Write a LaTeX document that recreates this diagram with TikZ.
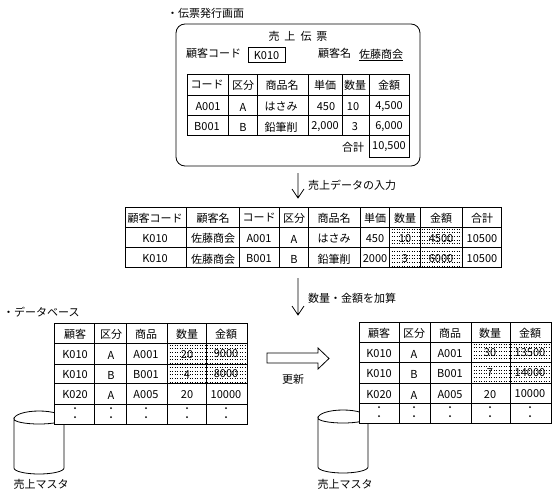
\documentclass[tikz,border=0pt]{standalone}
\usepackage{fontspec}
\setmainfont{Noto Sans CJK JP}
\tikzset{
  cell/.style={inner sep=0pt,font=\fontsize{11}{13}\selectfont},
  line/.style={draw=black,line width=0.8pt},
  grid/.style={draw=black,line width=0.8pt,fill=white},
  dotrow/.style={line width=0.8pt,dash pattern=on 1pt off 1.5pt},
}
\newcommand{\dotcell}[4]{%
  \begin{scope}
    \clip (#1,#2) rectangle (#3,#4);
    \foreach \n in {0,...,10} \draw[dotrow] (#1,{#2+2+3.7*\n}) -- (#3,{#2+2+3.7*\n});
  \end{scope}}
\newcommand{\drum}[2]{%
  \draw[line,fill=white] (#1,#2) arc[start angle=180,end angle=0,x radius=25,y radius=5]
    -- (#1+50,#2+49) arc[start angle=0,end angle=180,x radius=25,y radius=6] -- cycle;
  \draw[line] (#1,#2) arc[start angle=180,end angle=360,x radius=25,y radius=8];}
\begin{document}
\begin{tikzpicture}[x=1pt,y=-1pt]
  \useasboundingbox (0,0) rectangle (555,498);

  % Heading
  \node[cell,anchor=west] (formtitle) at (167,13) {・伝票発行画面};

  % Form
  \draw[line,rounded corners=9pt] (176,24) rectangle (420,166);
  \node[cell] (formname) at (298,36) {売\hspace{5pt}上\hspace{5pt}伝\hspace{5pt}票};
  \node[cell,anchor=west] (custcode) at (186,53) {顧客コード};
  \draw[line] (248,47) rectangle (285,62);
  \node[cell] (custkey) at (266.5,55.5) {K010};
  \node[cell,anchor=west] (custname) at (318,53) {顧客名};
  \node[cell,anchor=west] (custval) at (359,55) {\underline{佐藤商会}};

  % Form table
  \draw[line] (187,74) rectangle (409,135);
  \foreach \yy in {95,115} \draw[line] (187,\yy) -- (409,\yy);
  \foreach \xx in {228,257,308,342,369} \draw[line] (\xx,74) -- (\xx,135);
  \draw[line] (369,135) rectangle (409,157);
  \foreach \i/\xx/\yy/\t in {
    1/207/85/コード,2/243/85/区分,3/282/85/商品名,4/325/85/単価,5/355/85/数量,6/389/85/金額,
    7/208/107/A001,8/243/107/A,9/281/106/はさみ,10/326/107/450,11/353/107/10,12/389/107/{4,500},
    13/207/127/B001,14/243/127/B,15/281/127/鉛筆削,16/325/127/{2,000},17/355/127/3,18/389/127/{6,000}}
    \node[cell] (form\i) at (\xx,\yy) {\t};
  \node[cell] (sumlabel) at (353,147) {合計};
  \node[cell] (sumval) at (389,147) {10,500};

  % First step
  \coordinate (inputtop) at (298,173);
  \coordinate (inputend) at (298,198);
  \draw[line] (inputtop) -- (inputend) (292,189) -- (inputend) -- (304,189);
  \node[cell,anchor=west] (inputlabel) at (308,185) {売上データの入力};

  % Slip table
  \draw[grid] (125,207) rectangle (501,267);
  \foreach \yy in {227,247} \draw[line] (125,\yy) -- (501,\yy);
  \foreach \xx in {186,239,279,308,360,389,420,462} \draw[line] (\xx,207) -- (\xx,267);
  \foreach \i/\xx/\yy/\t in {
    1/155/218/顧客コード,2/213/218/顧客名,3/259/217/コード,4/294/218/区分,5/334/218/商品名,6/375/218/単価,7/405/218/数量,8/441/218/金額,9/482/218/合計,
    10/155/239/K010,11/213/238/佐藤商会,12/259/239/A001,13/294/239/A,14/334/238/はさみ,15/375/239/450,16/405/239/10,17/441/239/4500,18/482/239/10500,
    19/155/259/K010,20/213/259/佐藤商会,21/259/259/B001,22/294/259/B,23/334/259/鉛筆削,24/375/259/2000,25/405/259/3,26/441/259/6000,27/482/259/10500}
    \node[cell] (slip\i) at (\xx,\yy) {\t};
  \dotcell{389}{227}{462}{267}

  % Second step
  \coordinate (addtop) at (298,278);
  \coordinate (addend) at (298,315);
  \draw[line] (addtop) -- (addend) (292,306) -- (addend) -- (304,306);
  \node[cell,anchor=west] (addlabel) at (308,298) {数量・金額を加算};

  % Database before
  \node[cell,anchor=west] (dbtitle) at (3,312) {・データベース};
  \drum{14}{419}
  \node[cell] (leftdb) at (41,484) {売上マスタ};
  \draw[grid] (54,323) rectangle (247,424);
  \foreach \yy in {343,364,383,404} \draw[line] (54,\yy) -- (247,\yy);
  \foreach \xx in {94,126,167,206} \draw[line] (\xx,323) -- (\xx,424);
  \foreach \i/\xx/\yy/\t in {
    1/75/334/顧客,2/111/334/区分,3/146/334/商品,4/187/334/数量,5/226/334/金額,
    6/75/355/K010,7/111/355/A,8/146/355/A001,9/187/355/20,10/226/354/9000,
    11/75/375/K010,12/111/375/B,13/146/375/B001,14/187/375/4,15/226/374/8000,
    16/75/395/K020,17/111/395/A,18/146/395/A005,19/187/395/20,20/226/395/10000}
    \node[cell] (lefttab\i) at (\xx,\yy) {\t};
  \foreach \xx in {75,111,146,187,226}
    \foreach \yy in {408,417} \fill (\xx,\yy) circle (1);
  \dotcell{167}{343}{247}{383}

  % Update
  \draw[line] (267,353) -- (318,353) -- (318,348) -- (329,358.5) -- (318,369) -- (318,363) -- (267,363) -- cycle;
  \node[cell] (updatelabel) at (293,379) {更新};

  % Database after
  \drum{318}{418}
  \node[cell] (rightdb) at (345,484) {売上マスタ};
  \draw[grid] (359,322) rectangle (551,423);
  \foreach \yy in {342,362,383,403} \draw[line] (359,\yy) -- (551,\yy);
  \foreach \xx in {399,430,471,510} \draw[line] (\xx,322) -- (\xx,423);
  \foreach \i/\xx/\yy/\t in {
    1/379/333/顧客,2/414/333/区分,3/450/333/商品,4/490/333/数量,5/530/333/金額,
    6/379/354/K010,7/414/354/A,8/450/354/A001,9/490/353/30,10/530/353/13500,
    11/379/374/K010,12/414/374/B,13/450/374/B001,14/490/373/7,15/530/373/14000,
    16/379/395/K020,17/414/395/A,18/450/395/A005,19/490/395/20,20/530/394/10000}
    \node[cell] (righttab\i) at (\xx,\yy) {\t};
  \foreach \xx in {379,414,450,490,530}
    \foreach \yy in {407,416} \fill (\xx,\yy) circle (1);
  \dotcell{471}{342}{551}{383}
\end{tikzpicture}
\end{document}
